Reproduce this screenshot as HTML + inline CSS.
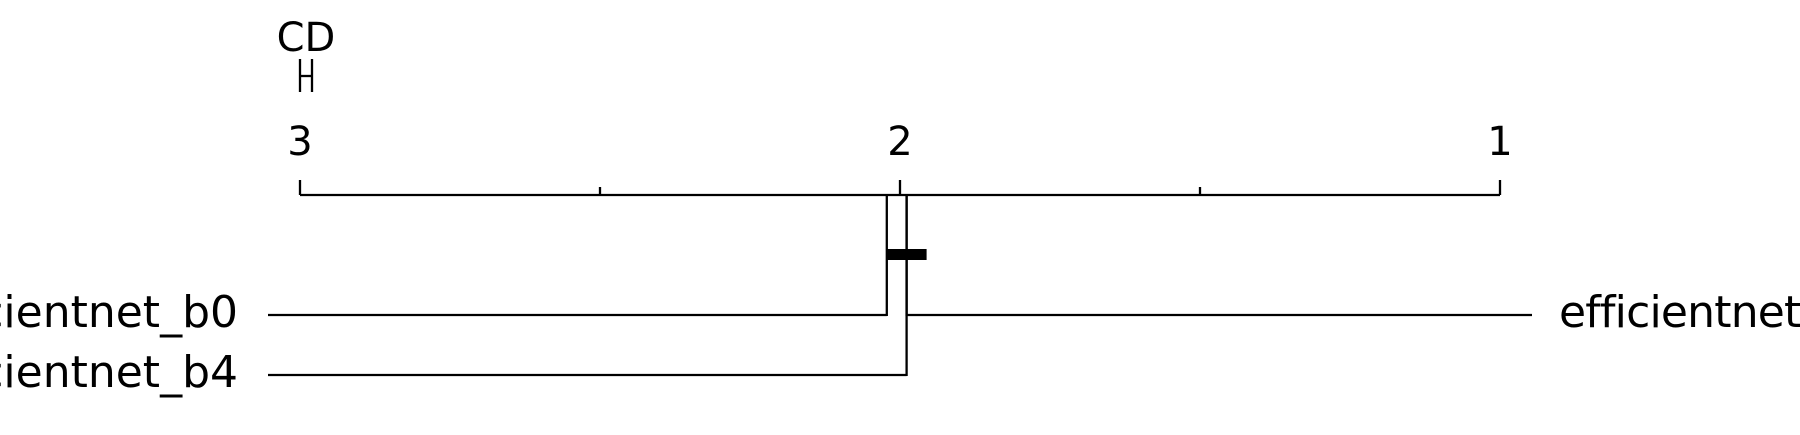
<!DOCTYPE html>
<html><head><meta charset="utf-8">
<style>html,body{margin:0;padding:0;background:#fff;width:1800px;height:435px;overflow:hidden}
svg{display:block;font-family:"DejaVu Sans","Liberation Sans",sans-serif;font-variant-ligatures:none;font-feature-settings:"liga" 0}</style></head>
<body>
<svg id="chart" width="1800" height="435" viewBox="0 0 1800 435" xmlns="http://www.w3.org/2000/svg"></svg>
<script>
const modelNames = ["efficientnet_b0", "efficientnet_b4", "efficientnet_b2"];
const modelRanks = [2.022, 1.989, 1.989];
const modelSides = ["left", "left", "right"];
const tickValues = [3, 2.5, 2, 1.5, 1];
const tickLabels = ["3", "", "2", "", "1"];
const cdValue = 0.02;
const cliqueRanks = [2.022, 1.989];

const NS = "http://www.w3.org/2000/svg";
const svg = document.getElementById("chart");
const axisY = 195;
function xScale(r){ return 300 + (3 - r) * 600; }
function mk(tag, attrs){ const e = document.createElementNS(NS, tag); for (const k in attrs) e.setAttribute(k, attrs[k]); svg.appendChild(e); return e; }

let ax = mk("line",{x1:xScale(3),x2:xScale(1),y1:axisY,y2:axisY,stroke:"#000","stroke-width":2.3});



tickValues.forEach((v,i)=>{
  const major = tickLabels[i] !== "";
  const t = mk("line",{x1:xScale(v),x2:xScale(v),y1:axisY-(major?15:8),y2:axisY,stroke:"#000","stroke-width":2.3});
  
  
  if (major){
    const tl = mk("text",{x:xScale(v),y:155,"text-anchor":"middle","font-size":40});
    tl.textContent = tickLabels[i];
    
    
  }
});

// CD marker
const cdx1 = xScale(3), cdx2 = xScale(3 - cdValue);
const cdt = mk("text",{x:(cdx1+cdx2)/2,y:51,"text-anchor":"middle","font-size":40});
cdt.textContent = "CD";


const cdl = mk("line",{x1:cdx1,x2:cdx2,y1:76,y2:76,stroke:"#000","stroke-width":2.3});


[cdx1,cdx2].forEach(x=>{
  const e = mk("line",{x1:x,x2:x,y1:59,y2:92,stroke:"#000","stroke-width":2.3});
  
  
});

// models
const leftYs = [315, 375];
let li = 0;
modelNames.forEach((n,i)=>{
  const x = xScale(modelRanks[i]);
  const y = modelSides[i] === "left" ? leftYs[li++] : 315;
  const v = mk("line",{x1:x,x2:x,y1:axisY,y2:y+1,stroke:"#000","stroke-width":2.3});
  
  
  const left = modelSides[i] === "left";
  const h = mk("line",{x1:x,x2:left?268:1532,y1:y,y2:y,stroke:"#000","stroke-width":2.3});
  
  
  const t = mk("text",{x:left?238:1559,y:y+12,"text-anchor":left?"end":"start","font-size":44,"letter-spacing":left?0:-0.8});
  t.textContent = n;
  
  
});

// clique bar
const cq = mk("line",{x1:xScale(Math.max(...cliqueRanks)),x2:xScale(Math.min(...cliqueRanks))+20,y1:254.5,y2:254.5,stroke:"#000","stroke-width":11});


</script>
</body></html>
